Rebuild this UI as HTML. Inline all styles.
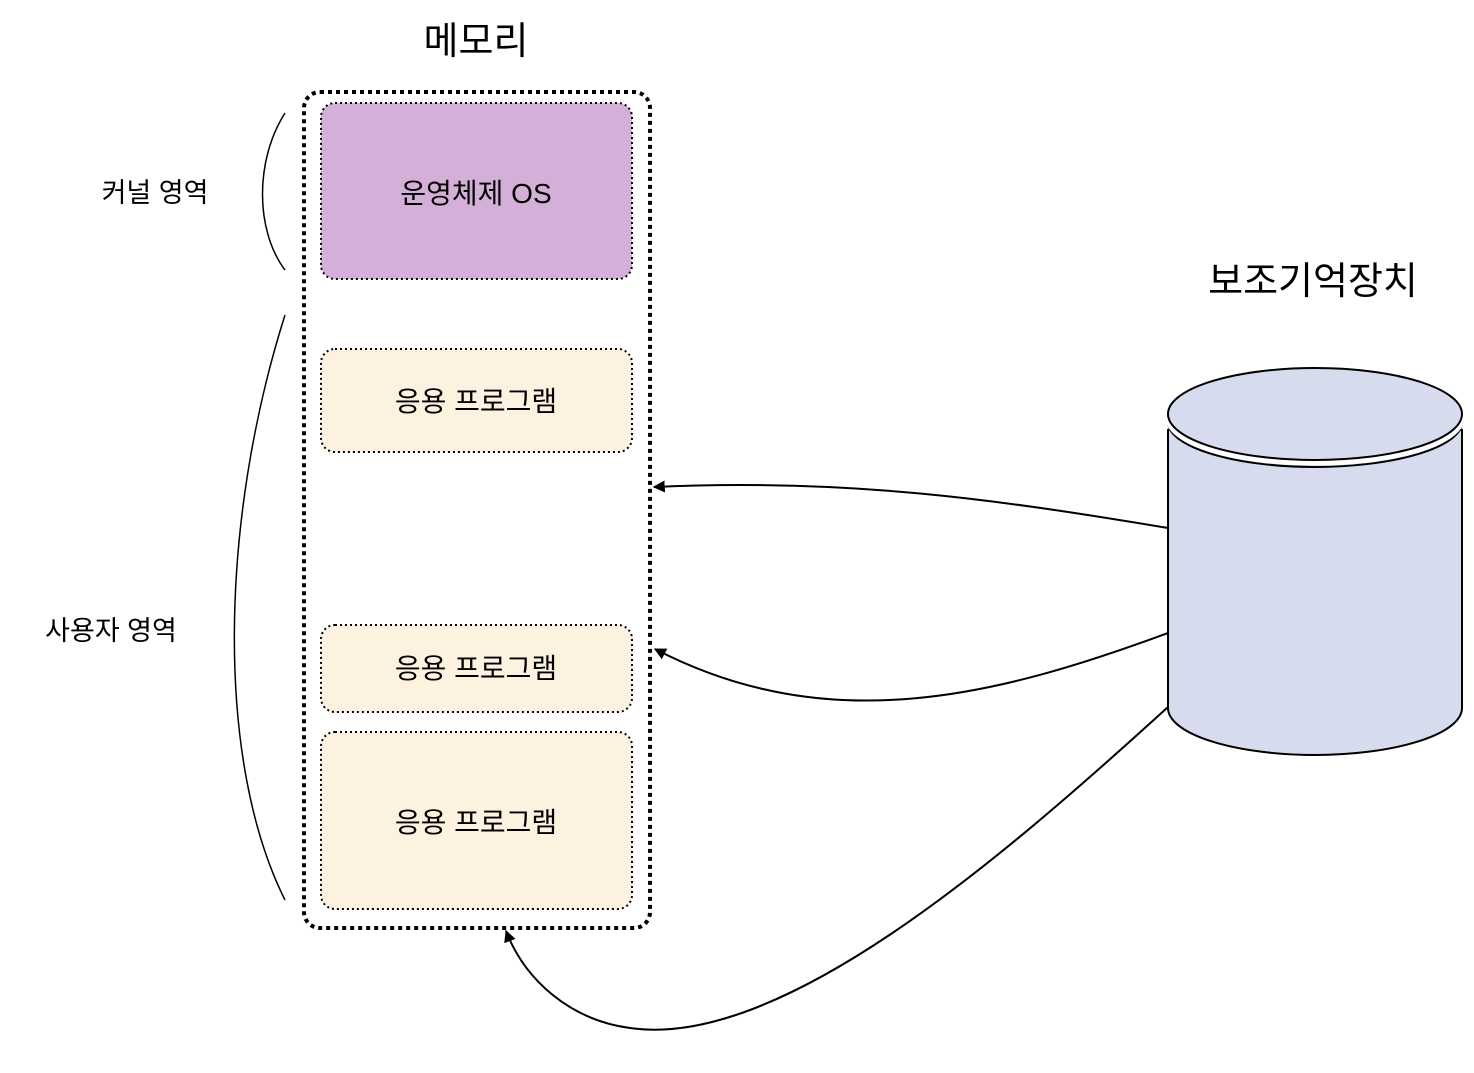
<!DOCTYPE html>
<html><head><meta charset="utf-8"><style>
html,body{margin:0;padding:0;background:#fff;}
svg text{font-family:"Liberation Sans","Noto Sans CJK KR",sans-serif;fill:#000;}
</style></head><body>
<svg width="1474" height="1068" viewBox="0 0 1474 1068" xmlns="http://www.w3.org/2000/svg">
<defs>
<marker id="ah" viewBox="0 0 10 10" refX="9" refY="5" markerWidth="12" markerHeight="12" markerUnits="userSpaceOnUse" orient="auto">
<path d="M0,0 L10,5 L0,10 z" fill="#000"/>
</marker>
</defs>
<text x="476" y="54" font-size="38" text-anchor="middle">메모리</text>
<text x="1313" y="294" font-size="38" text-anchor="middle">보조기억장치</text>
<text x="155" y="202" font-size="27" text-anchor="middle">커널 영역</text>
<text x="111" y="640" font-size="27" text-anchor="middle">사용자 영역</text>

<path d="M285,113 C255,160 255,230 285,270" fill="none" stroke="#000" stroke-width="1.5"/>
<path d="M285,315 C220,520 215,760 285,900" fill="none" stroke="#000" stroke-width="1.5"/>

<rect x="304" y="92" width="346" height="836" rx="16" fill="none" stroke="#000" stroke-width="4" stroke-dasharray="4 4"/>
<rect x="321" y="103" width="311" height="176" rx="14" fill="#d4b0d8" stroke="#000" stroke-width="2" stroke-dasharray="2 3"/>
<text x="476" y="203" font-size="28" text-anchor="middle">운영체제 OS</text>
<rect x="321" y="349" width="311" height="103" rx="14" fill="#fdf1e0" stroke="#000" stroke-width="2" stroke-dasharray="2 3"/>
<text x="476" y="411" font-size="28" text-anchor="middle">응용 프로그램</text>
<rect x="321" y="625" width="311" height="87" rx="14" fill="#fdf1e0" stroke="#000" stroke-width="2" stroke-dasharray="2 3"/>
<text x="476" y="678" font-size="28" text-anchor="middle">응용 프로그램</text>
<rect x="321" y="732" width="311" height="177" rx="14" fill="#fdf1e0" stroke="#000" stroke-width="2" stroke-dasharray="2 3"/>
<text x="476" y="832" font-size="28" text-anchor="middle">응용 프로그램</text>

<path d="M1168,430 L1168,708 A147,47 0 0 0 1462,708 L1462,430 Z" fill="#d6dcee" stroke="#000" stroke-width="2"/>
<path d="M1168,422 A147,45 0 0 0 1462,422" fill="#d6dcee" stroke="#000" stroke-width="2"/>
<path d="M1168,418 A147,45 0 0 0 1462,418" fill="none" stroke="#fff" stroke-width="5"/>
<ellipse cx="1315" cy="414" rx="147" ry="46" fill="#d6dcee" stroke="#000" stroke-width="2"/>

<path d="M1168,528 C1000,500 850,478 654,487" fill="none" stroke="#000" stroke-width="2" marker-end="url(#ah)"/>
<path d="M1168,633 C1000,695 830,740 655,649" fill="none" stroke="#000" stroke-width="2" marker-end="url(#ah)"/>
<path d="M1168,707 C1000,860 780,1050 630,1028 C570,1020 525,980 506,931" fill="none" stroke="#000" stroke-width="2" marker-end="url(#ah)"/>
</svg>
</body></html>
